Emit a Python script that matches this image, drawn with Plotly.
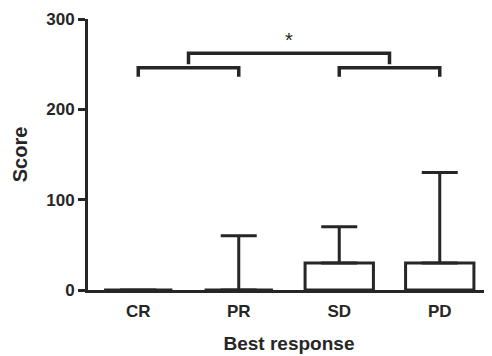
import plotly.graph_objects as go

categories = ["CR", "PR", "SD", "PD"]
medians = [0, 0, 30, 30]
upper = [0, 60, 70, 130]
y_ticks = [0, 100, 200, 300]

# comparison brackets: (start index, end index, height, drop)
pair_brackets = [(0, 1, 246, 10), (2, 3, 246, 10)]
top_bracket = (0.5, 2.5, 262, 12)
sig_label = "*"
sig_y = 277

ink = "#262626"
font = "Arial, Liberation Sans, sans-serif"

x = list(range(len(categories)))
err_plus = [u - m for u, m in zip(upper, medians)]

fig = go.Figure()
fig.add_trace(go.Bar(
    x=x, y=medians, width=0.68,
    marker=dict(color="white", line=dict(color=ink, width=3)),
    error_y=dict(type="data", symmetric=False, array=err_plus,
                 arrayminus=[0] * len(x), color=ink, thickness=3, width=18),
))

shapes = []
for a, b, h, d in pair_brackets + [top_bracket]:
    shapes.append(dict(type="path", xref="x", yref="y",
                       path=f"M {a} {h-d} L {a} {h} L {b} {h} L {b} {h-d}",
                       line=dict(color=ink, width=3.5)))

# page body has an 8px default margin; compensate so the chart lands in place
fig.update_layout(
    width=484, height=348,
    margin=dict(l=80, r=2, t=11, b=66, autoexpand=False),
    plot_bgcolor="white", paper_bgcolor="white",
    showlegend=False, shapes=shapes,
    font=dict(family=font, color=ink),
    annotations=[dict(x=(top_bracket[0] + top_bracket[1]) / 2, y=sig_y,
                      xref="x", yref="y", text=sig_label, showarrow=False,
                      yanchor="middle", font=dict(size=20, color=ink, family=font))],
)
fig.update_xaxes(range=[-0.5, 3.5], tickvals=x, ticktext=[f"<b>{c}</b>" for c in categories],
                 showline=True, linecolor=ink, linewidth=3,
                 ticks="outside", ticklen=4, tickcolor="rgba(0,0,0,0)",
                 showgrid=False, zeroline=False,
                 tickfont=dict(size=17, family=font, color=ink),
                 title=dict(text="<b>Best response</b>", font=dict(size=19, family=font, color=ink), standoff=17))
fig.update_yaxes(range=[0, 300], tickvals=y_ticks, ticktext=[f"<b>{t}</b>" for t in y_ticks],
                 showline=True, linecolor=ink, linewidth=3, ticks="outside",
                 ticklen=7, tickwidth=3, tickcolor=ink,
                 showgrid=False, zeroline=False,
                 tickfont=dict(size=17, family=font, color=ink),
                 title=dict(text="<b>Score</b>", font=dict(size=20, family=font, color=ink), standoff=14))

fig.write_html("out.html")
